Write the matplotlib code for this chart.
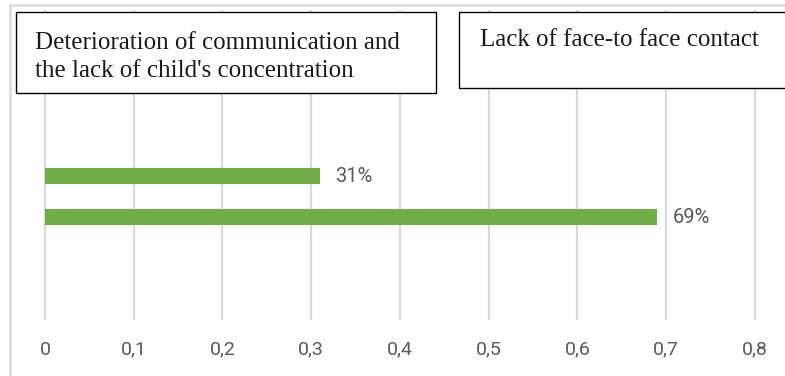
import matplotlib
matplotlib.use("Agg")
import matplotlib.pyplot as plt
from matplotlib.patches import Rectangle
from matplotlib.lines import Line2D

# survey answers (share of respondents)
answers = ["Lack of face-to face contact",
           "Deterioration of communication and\nthe lack of child's concentration"]
shares = [0.69, 0.31]
share_labels = ["69%", "31%"]
ticks = [0, 0.1, 0.2, 0.3, 0.4, 0.5, 0.6, 0.7, 0.8]
tick_labels = ["0", "0,1", "0,2", "0,3", "0,4", "0,5", "0,6", "0,7", "0,8"]

W, H = 785, 376
GREEN = "#70AD47"
GREY = "#595959"
GRID = "#D9D9D9"
SANS = ["Roboto", "DejaVu Sans"]
SERIF = ["Liberation Serif", "DejaVu Serif"]


def fx(px):
    return px / W


def fy(py):
    return 1 - py / H


fig = plt.figure(figsize=(W / 100, H / 100), dpi=100)

# plot area: x=0 at 45px, 0.1 per 88.75px; y from 10px to 320px
ax = fig.add_axes([fx(9.5), fy(320), fx(772), 310 / H])
ax.set_xlim(-0.04, 0.83)
ax.set_ylim(-2.51, 5.05)

ax.barh([0, 1], shares, height=0.37, color=GREEN, zorder=3)
for y, v, lab in zip([0, 1], shares, share_labels):
    ax.text(v + 0.017, y, lab, va="center", ha="left", color=GREY,
            fontsize=14.5, family=SANS)

ax.set_xticks(ticks)
ax.set_xticklabels(tick_labels, color=GREY, fontsize=14, family=SANS)
ax.tick_params(axis="x", length=0, pad=15)
ax.set_yticks([])
ax.grid(axis="x", color=GRID, linewidth=1.6, zorder=0)
for s in ax.spines.values():
    s.set_visible(False)

# outer chart frame (top and left edges visible)
fig.add_artist(Line2D([fx(10), 1], [fy(5), fy(5)], color=GRID, linewidth=1.8))
fig.add_artist(Line2D([fx(10), fx(10)], [fy(5), 0], color=GRID, linewidth=1.8))

# category boxes
fig.add_artist(Rectangle((fx(16), fy(93)), fx(420), 81 / H, transform=fig.transFigure,
                         facecolor="white", edgecolor="black", linewidth=1, zorder=5))
fig.text(fx(35), fy(57), answers[1], va="center", ha="left", fontsize=18,
         family=SERIF, color="#1a1a1a", linespacing=1.3, zorder=6)
fig.add_artist(Rectangle((fx(459), fy(88)), fx(340), 76 / H, transform=fig.transFigure,
                         facecolor="white", edgecolor="black", linewidth=1, zorder=5))
fig.text(fx(480), fy(40), answers[0], va="center", ha="left", fontsize=18,
         family=SERIF, color="#1a1a1a", zorder=6)

fig.savefig("out.png", dpi=100)
